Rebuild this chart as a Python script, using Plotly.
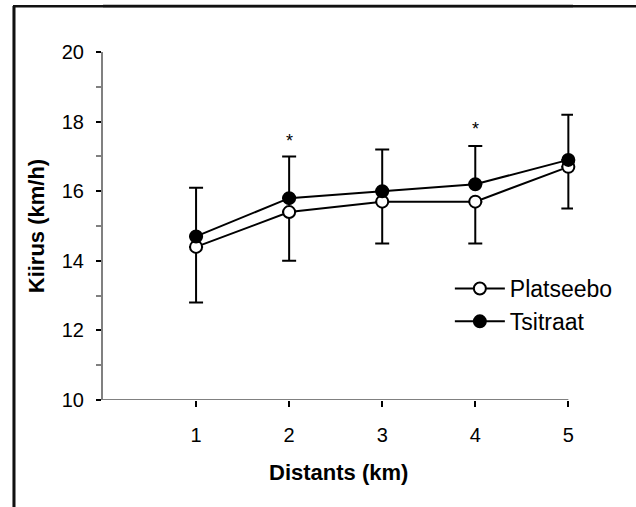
import plotly.graph_objects as go

distance = [1, 2, 3, 4, 5]
platseebo = [14.4, 15.4, 15.7, 15.7, 16.7]
platseebo_err_minus = [1.6, 1.4, 1.2, 1.2, 1.2]
tsitraat = [14.7, 15.8, 16.0, 16.2, 16.9]
tsitraat_err_plus = [1.4, 1.2, 1.2, 1.1, 1.3]
sig_x = [2, 4]
sig_y = [17.45, 17.8]
y_ticks = [10, 12, 14, 16, 18, 20]

FONT = "Arial, Liberation Sans, sans-serif"

fig = go.Figure()
fig.add_trace(go.Scatter(
    x=distance, y=platseebo, name="Platseebo", mode="lines+markers",
    line=dict(color="black", width=2), cliponaxis=False,
    marker=dict(size=12, color="white", line=dict(color="black", width=2)),
    error_y=dict(type="data", symmetric=False, array=[0] * 5,
                 arrayminus=platseebo_err_minus, color="black", thickness=2, width=7),
))
fig.add_trace(go.Scatter(
    x=distance, y=tsitraat, name="Tsitraat", mode="lines+markers",
    line=dict(color="black", width=2), cliponaxis=False,
    marker=dict(size=12, color="black", line=dict(color="black", width=2)),
    error_y=dict(type="data", symmetric=False, array=tsitraat_err_plus,
                 arrayminus=[0] * 5, color="black", thickness=2, width=7),
))

# outer frame: top edge and left edge
fig.add_shape(type="line", xref="paper", yref="paper",
              x0=0.0, x1=1.0, y0=1.132, y1=1.132,
              line=dict(color="#111111", width=2.5))
fig.add_shape(type="line", xref="paper", yref="paper",
              x0=-0.19, x1=-0.19, y0=-0.4, y1=1.132,
              line=dict(color="#111111", width=2.5))
# bordered empty box whose right/bottom edges fall outside the canvas
fig.add_annotation(text=" ", xref="paper", yref="paper", x=-0.192, y=1.136,
                   xanchor="left", yanchor="top", showarrow=False,
                   width=700, height=600, bordercolor="#111111", borderwidth=2.5,
                   borderpad=0)

# x-axis baseline drawn from category 0 to category 5
fig.add_shape(type="line", xref="x", yref="y", x0=0, x1=distance[-1], y0=y_ticks[0], y1=y_ticks[0],
              line=dict(color="#808080", width=2), layer="below")

for sx, sy in zip(sig_x, sig_y):
    fig.add_annotation(x=sx, y=sy, text="*", showarrow=False,
                       font=dict(family=FONT, size=18, color="black"))

# axis titles
fig.add_annotation(text="<b>Distants (km)</b>", xref="paper", yref="paper",
                   x=0.5, y=-0.207, showarrow=False, yanchor="middle",
                   font=dict(family=FONT, size=22, color="black"))
fig.add_annotation(text="<b>Kiirus (km/h)</b>", xref="paper", yref="paper",
                   x=-0.142, y=0.5, showarrow=False, textangle=-90,
                   xanchor="center", yanchor="middle",
                   font=dict(family=FONT, size=22, color="black"))

fig.update_layout(
    width=636, height=507,
    margin=dict(l=103, r=63, t=52, b=107, autoexpand=False),
    plot_bgcolor="white", paper_bgcolor="white",
    font=dict(family=FONT, size=20, color="black"),
    showlegend=True,
    legend=dict(x=0.738, y=0.273, xanchor="left", yanchor="middle",
                bgcolor="rgba(0,0,0,0)", font=dict(size=23),
                itemwidth=50, tracegroupgap=0),
    xaxis=dict(range=[0, 5.05], tickvals=distance, ticktext=[str(d) for d in distance],
               showgrid=False, zeroline=False, showline=False,
               ticks="outside", ticklen=6, tickwidth=2, tickcolor="black",
               ticklabelstandoff=11, tickfont=dict(size=20)),
    yaxis=dict(range=[10, 20], tickvals=y_ticks, showgrid=False, zeroline=False,
               showline=True, linecolor="#808080", linewidth=2,
               ticks="outside", ticklen=5, tickwidth=2, tickcolor="black",
               minor=dict(dtick=1, tick0=0, ticks="outside", ticklen=5,
                          tickcolor="#808080", tickwidth=2),
               ticklabelstandoff=8, tickfont=dict(size=20)),
)

fig.write_html("out.html")
